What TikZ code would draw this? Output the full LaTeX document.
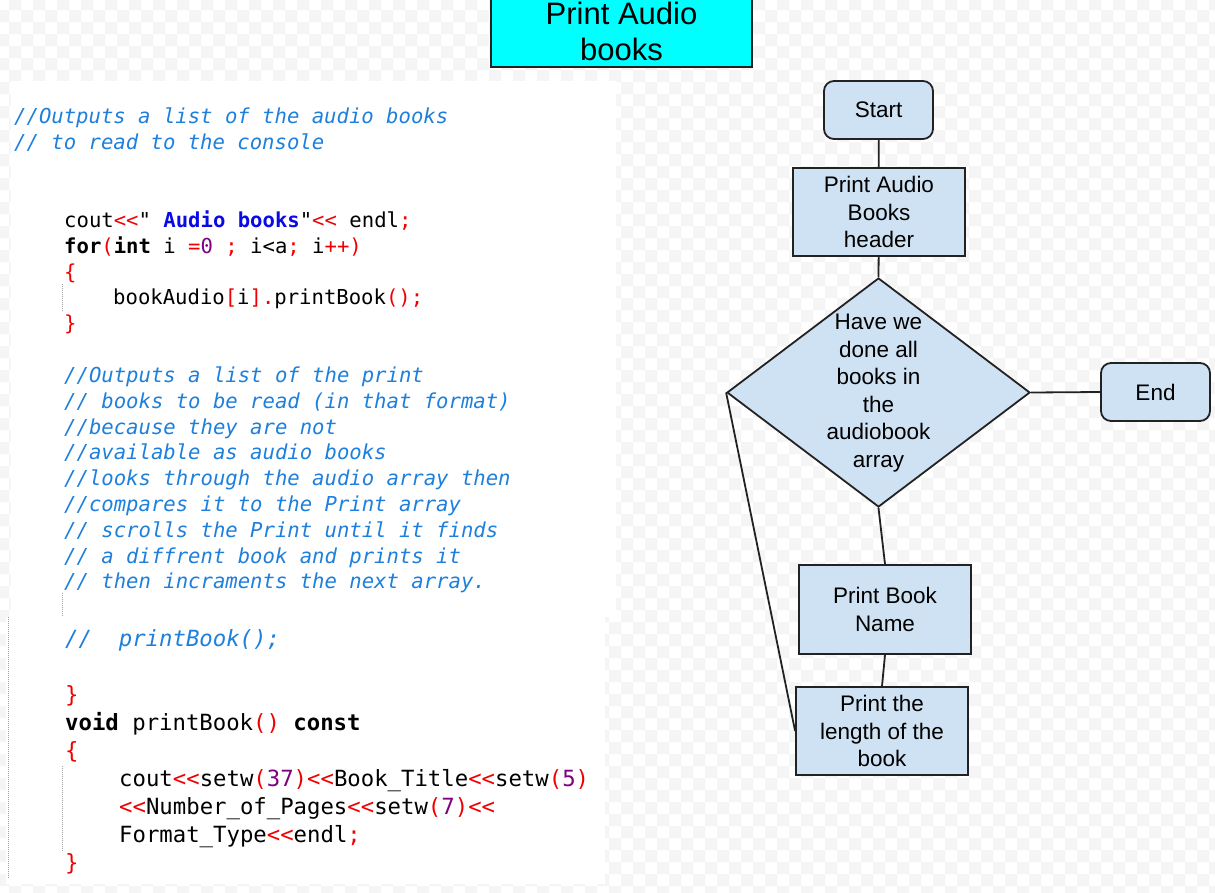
\documentclass[tikz,border=0pt]{standalone}
\usepackage{fontspec}
\setmainfont{Liberation Sans}
\newfontfamily\codefont[Ligatures=TeXOff]{DejaVu Sans Mono}
\usetikzlibrary{shapes.geometric}

\definecolor{cmt}{RGB}{30,128,220}
\definecolor{cred}{RGB}{240,0,0}
\definecolor{cnumc}{RGB}{128,0,128}
\definecolor{cstrc}{RGB}{10,10,230}
\definecolor{boxfill}{HTML}{CFE2F3}
\definecolor{edge}{HTML}{222222}
\definecolor{chk}{HTML}{F5F5F5}
\definecolor{titlefill}{HTML}{00FFFF}
\definecolor{guide}{HTML}{A0A0A0}

% syntax colouring helpers
\newcommand\cop[1]{\textcolor{cred}{#1}}
\newcommand\cnm[1]{\textcolor{cnumc}{#1}}
\newcommand\cst[1]{\textcolor{cstrc}{\bfseries #1}}
\newcommand\ckw[1]{{\bfseries #1}}
\newcommand\ccm[1]{\textcolor{cmt}{\itshape #1}}

\tikzset{
  codeA/.style={anchor=base west, inner sep=0pt, font=\codefont\fontsize{20.6}{24}\selectfont},
  codeB/.style={anchor=base west, inner sep=0pt, font=\codefont\fontsize{22.3}{26}\selectfont},
  flowtext/.style={font=\fontsize{22.5}{27.5}\selectfont, align=center},
  procbox/.style={draw=edge, line width=1.8pt, fill=boxfill, rectangle, inner sep=0pt, flowtext},
  termbox/.style={procbox, rounded corners=10pt},
  decbox/.style={draw=edge, line width=1.8pt, fill=boxfill, diamond, inner sep=0pt},
  link/.style={draw=edge, line width=1.8pt},
  guideline/.style={guide, line width=0.9pt, dash pattern=on 1pt off 1pt}
}

\begin{document}
\begin{tikzpicture}[x=1pt, y=-1pt]
\useasboundingbox (0,0) rectangle (1215,892);

% checkered backdrop
\fill[white] (0,0) rectangle (1215,892);
\begin{scope}
\clip (0,0) rectangle (1215,892);
\fill[chk] \foreach \j [evaluate=\j as \s using {int(1-mod(\j,2))},
                        evaluate=\j as \t using {int(3-mod(\j,2))}] in {0,...,75}
  { \foreach \i in {\s,\t,...,103} { (-3+12*\i,-2+12*\j) rectangle ++(12,12) } };
\end{scope}

% code panels
\fill[white] (11,81) rectangle (616,617);
\fill[white] (6,617) rectangle (605,884);
\draw[guideline] (62,284) -- (62,311);
\draw[guideline] (62,593) -- (62,616);
\draw[guideline] (8,617) -- (8,878);
\draw[guideline] (62,766) -- (62,852);

% code listing, first part
\node[codeA] (c1) at (14,123.5) {\ccm{//Outputs a list of the audio books}};
\node[codeA] (c2) at (14,149.5) {\ccm{// to read to the console}};
\node[codeA] (c3) at (64,227.5) {cout\cop{<<}" \cst{Audio books}"\cop{<<} endl\cop{;}};
\node[codeA] (c4) at (64,253.5) {\ckw{for}\cop{(}\ckw{int} i \cop{=}\cnm{0} \cop{;} i<a\cop{;} i\cop{++)}};
\node[codeA] (c5) at (64,279.5) {\cop{\{}};
\node[codeA] (c6) at (113,304.5) {bookAudio\cop{[}i\cop{].}printBook\cop{();}};
\node[codeA] (c7) at (64,330.5) {\cop{\}}};
\node[codeA] (c8)  at (64,382.5) {\ccm{//Outputs a list of the print}};
\node[codeA] (c9)  at (64,408.3) {\ccm{// books to be read (in that format)}};
\node[codeA] (c10) at (64,434.1) {\ccm{//because they are not}};
\node[codeA] (c11) at (64,459.9) {\ccm{//available as audio books}};
\node[codeA] (c12) at (64,485.7) {\ccm{//looks through the audio array then}};
\node[codeA] (c13) at (64,511.5) {\ccm{//compares it to the Print array}};
\node[codeA] (c14) at (64,537.3) {\ccm{// scrolls the Print until it finds}};
\node[codeA] (c15) at (64,563.1) {\ccm{// a diffrent book and prints it}};
\node[codeA] (c16) at (64,588.9) {\ccm{// then incraments the next array.}};

% code listing, second part
\node[codeB] (c17) at (65,646) {\ccm{//~~printBook();}};
\node[codeB] (c18) at (65,702) {\cop{\}}};
\node[codeB] (c19) at (65,730) {\ckw{void} printBook\cop{()} \ckw{const}};
\node[codeB] (c20) at (65,758) {\cop{\{}};
\node[codeB] (c21) at (119,786) {cout\cop{<<}setw\cop{(}\cnm{37}\cop{)<<}Book\_Title\cop{<<}setw\cop{(}\cnm{5}\cop{)}};
\node[codeB] (c22) at (119,814) {\cop{<<}Number\_of\_Pages\cop{<<}setw\cop{(}\cnm{7}\cop{)<<}};
\node[codeB] (c23) at (119,842) {Format\_Type\cop{<<}endl\cop{;}};
\node[codeB] (c24) at (65,870) {\cop{\}}};

% heading
\node[draw=edge, line width=1.8pt, fill=titlefill, minimum width=261pt, minimum height=71pt,
      inner sep=0pt, align=center, font=\fontsize{31}{36}\selectfont]
  (title) at (621.5,31.5) {Print Audio\\books};

% flowchart
\node[termbox, minimum width=109pt, minimum height=58pt] (start) at (878.5,110) {Start};
\node[procbox, minimum width=172pt, minimum height=88pt] (hdr) at (879,212) {Print Audio\\Books\\header};
\node[decbox, minimum width=303pt, minimum height=229pt] (dec) at (878.5,392.5) {};
\node[flowtext, inner sep=0pt] (dectext) at (878.5,393) {Have we\\done all\\books in\\the\\audiobook\\array};
\node[termbox, minimum width=109pt, minimum height=58pt] (end) at (1155.5,392) {End};
\node[procbox, minimum width=172pt, minimum height=89pt] (pbn) at (885,609.5) {Print Book\\Name};
\node[procbox, minimum width=172pt, minimum height=88pt] (len) at (882,731) {Print the\\length of the\\book};

\draw[link] (start) -- (hdr);
\draw[link] (hdr) -- (dec.north);
\draw[link] (dec.east) -- (end.west);
\draw[link] (dec.south) -- (pbn.north);
\draw[link] (pbn.south) -- (len.north);
\draw[link] (dec.west) -- (len.west);
\end{tikzpicture}
\end{document}
